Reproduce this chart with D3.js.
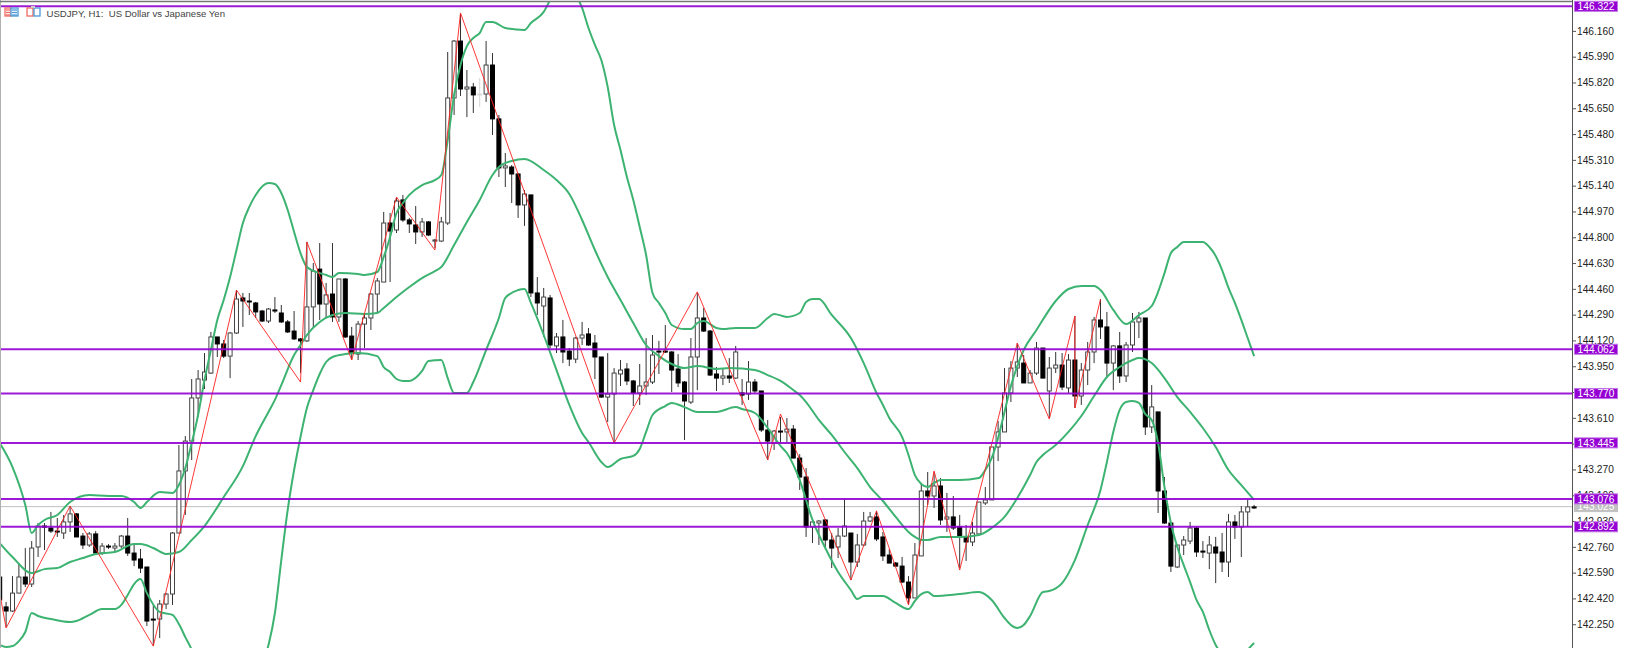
<!DOCTYPE html>
<html>
<head>
<meta charset="utf-8">
<style>
    body { margin: 0; background: #fff; }
    svg { display: block; }
</style>
<script src="https://cdn.jsdelivr.net/npm/d3@7"></script>
</head>
<body>
<svg id="chart" width="1626" height="648"></svg>
<script>
const title = "USDJPY, H1:  US Dollar vs Japanese Yen"

const open = [142.561,142.364,142.337,142.455,142.561,142.515,142.759,142.897,142.884,142.864,142.851,142.924,142.977,142.831,142.772,142.845,142.719,142.765,142.752,142.765,
    142.831,142.719,142.680,142.627,142.284,142.284,142.383,142.449,142.851,143.260,143.457,143.741,143.859,143.905,144.143,144.097,144.017,144.169,144.400,144.380,
    144.367,144.314,144.248,144.321,144.301,144.242,144.182,144.130,144.117,144.341,144.590,144.360,144.426,144.275,144.525,144.149,144.030,144.228,144.268,144.426,
    144.505,144.894,144.848,145.046,144.914,144.881,144.835,144.901,144.775,144.775,144.894,145.718,146.093,145.777,145.790,145.744,145.744,145.935,145.580,145.257,
    145.263,145.217,145.013,145.079,144.433,144.347,144.400,144.084,144.143,144.050,143.997,144.136,144.163,144.103,144.011,143.747,143.767,143.899,143.932,143.853,
    143.774,143.820,143.846,144.050,144.050,144.044,143.932,143.846,143.714,144.011,144.268,144.182,143.899,143.872,143.886,143.872,143.774,143.767,143.846,143.787,
    143.530,143.444,143.523,143.517,143.536,143.345,143.220,142.891,142.917,142.937,142.805,142.759,142.831,142.851,142.660,142.772,142.930,142.957,142.825,142.706,
    142.653,142.633,142.528,142.423,142.700,143.128,143.095,143.161,142.943,142.957,142.891,142.825,142.792,142.845,143.049,143.069,143.418,143.517,143.774,143.938,
    143.971,143.840,143.905,144.070,143.787,143.938,143.958,143.807,143.991,143.754,143.925,144.044,144.255,144.209,143.971,144.084,143.886,144.090,144.242,144.268,
    143.550,143.649,143.128,142.917,142.627,142.772,142.798,142.884,142.732,142.719,142.759,142.726,142.660,142.924,142.891,142.990,143.023]

const high = [142.574,142.397,142.567,142.653,142.752,142.798,142.917,142.917,142.990,142.950,142.970,143.029,142.983,142.851,142.858,142.864,142.785,142.778,142.785,142.838,
    142.950,142.772,142.746,142.627,142.383,142.410,142.455,142.858,143.431,143.490,143.866,143.925,144.037,144.176,144.143,144.123,144.176,144.452,144.433,144.433,
    144.374,144.321,144.334,144.406,144.354,144.255,144.314,144.136,144.769,144.630,144.762,144.499,144.762,144.525,144.531,144.209,144.248,144.288,144.433,144.531,
    144.967,144.960,145.059,145.079,144.927,145.006,144.927,144.907,144.789,144.934,146.021,146.100,146.278,145.902,145.817,145.849,146.093,146.014,145.606,145.355,
    145.276,145.224,145.111,145.079,144.538,144.466,144.420,144.169,144.255,144.070,144.143,144.242,144.202,144.156,144.011,144.037,143.938,143.991,143.971,143.859,
    143.965,144.136,144.156,144.117,144.222,144.050,144.030,143.853,144.136,144.433,144.334,144.189,143.945,143.938,144.004,144.084,143.866,143.984,143.866,143.787,
    143.596,143.530,143.616,143.609,143.563,143.371,143.279,142.937,142.937,142.943,142.851,142.884,143.075,142.851,142.845,142.990,142.990,142.997,142.858,142.746,
    142.660,142.693,142.567,142.785,143.181,143.253,143.253,143.214,143.115,143.095,142.970,142.904,142.924,143.055,143.154,143.418,143.589,143.938,143.984,144.103,
    144.024,143.925,144.110,144.070,144.011,144.044,144.037,144.030,144.281,143.971,144.110,144.275,144.393,144.308,144.090,144.176,144.110,144.301,144.308,144.268,
    143.826,143.649,143.220,142.917,142.772,142.831,142.924,142.891,142.798,142.831,142.825,142.851,142.977,142.970,143.029,143.075,143.036]

const low = [142.397,142.232,142.331,142.455,142.495,142.495,142.693,142.739,142.851,142.825,142.812,142.858,142.825,142.746,142.759,142.713,142.706,142.746,142.732,142.752,
    142.700,142.633,142.587,142.238,142.106,142.159,142.350,142.377,142.851,142.970,143.332,143.616,143.800,143.899,144.011,144.004,143.872,144.163,144.209,144.288,
    144.268,144.242,144.235,144.301,144.235,144.169,144.123,143.905,144.110,144.202,144.255,144.268,144.242,144.242,144.136,143.991,143.991,144.070,144.189,144.301,
    144.505,144.505,144.828,144.901,144.828,144.756,144.802,144.808,144.729,144.769,144.881,145.606,145.731,145.592,145.619,145.659,145.692,145.474,145.197,145.131,
    145.026,144.927,144.875,144.406,144.288,144.143,144.070,144.037,143.971,143.951,143.971,144.090,144.084,143.866,143.741,143.583,143.444,143.820,143.826,143.688,
    143.695,143.760,143.833,143.899,144.037,143.780,143.813,143.464,143.701,143.793,144.176,143.886,143.787,143.826,143.840,143.866,143.695,143.728,143.774,143.517,
    143.332,143.398,143.451,143.451,143.345,143.135,142.825,142.785,142.772,142.759,142.620,142.686,142.825,142.541,142.627,142.765,142.924,142.798,142.667,142.653,
    142.627,142.521,142.377,142.423,142.700,143.036,143.016,142.904,142.858,142.871,142.620,142.667,142.765,142.838,143.036,143.069,143.325,143.517,143.714,143.879,
    143.840,143.840,143.892,143.872,143.609,143.905,143.793,143.774,143.675,143.695,143.826,143.971,144.130,143.879,143.793,143.840,143.846,144.044,144.136,143.497,
    143.510,142.983,142.911,142.594,142.620,142.706,142.778,142.693,142.686,142.613,142.521,142.594,142.561,142.812,142.693,142.891,143.010]

const close = [142.410,142.337,142.455,142.561,142.515,142.752,142.897,142.890,142.864,142.858,142.924,142.977,142.825,142.772,142.845,142.719,142.765,142.759,142.765,142.831,
    142.719,142.673,142.620,142.271,142.278,142.383,142.449,142.851,143.260,143.457,143.741,143.866,143.912,144.143,144.097,144.017,144.169,144.393,144.380,144.374,
    144.308,144.248,144.327,144.314,144.242,144.176,144.130,144.117,144.341,144.577,144.360,144.420,144.275,144.525,144.143,144.037,144.228,144.268,144.426,144.512,
    144.894,144.841,145.039,144.914,144.888,144.835,144.901,144.815,144.782,144.901,145.718,146.093,145.777,145.790,145.738,145.744,145.935,145.580,145.257,145.270,
    145.217,145.013,145.085,144.433,144.367,144.406,144.090,144.143,144.044,143.997,144.136,144.156,144.090,144.011,143.747,143.767,143.905,143.925,143.853,143.774,
    143.820,143.846,144.024,144.044,144.044,143.925,143.840,143.721,144.011,144.268,144.182,143.892,143.872,143.886,143.872,144.044,143.760,143.846,143.787,143.530,
    143.457,143.523,143.517,143.536,143.345,143.220,142.891,142.924,142.930,142.805,142.752,142.831,142.897,142.660,142.772,142.930,142.957,142.812,142.700,142.653,
    142.633,142.528,142.423,142.706,143.128,143.095,143.161,142.937,142.957,142.884,142.825,142.792,142.851,143.055,143.069,143.418,143.517,143.774,143.938,143.978,
    143.840,143.905,144.070,143.872,143.938,143.958,143.813,143.991,143.754,143.925,144.044,144.255,144.209,143.971,144.084,143.886,144.090,144.242,144.268,143.550,
    143.682,143.128,142.917,142.633,142.772,142.805,142.884,142.726,142.726,142.772,142.719,142.660,142.924,142.891,142.990,143.023,143.016]

const fadedBars = [75]

// bollinger bands: [bar, price]
const bandUpper = [[0,143.444],[2,143.286],[4,143.036],[5,142.851],[6,142.904],[7,142.937],[9,142.970],[11,143.055],[14,143.101],[17,143.095],[19,143.095],[21,143.055],[22,143.016],[23,143.055],[25,143.121],[27,143.115],[28,143.167],[29,143.279],[30,143.444],[31,143.629],[32,143.859],[33,144.057],[34,144.255],[35,144.387],[36,144.538],[37,144.716],[38,144.894],[39,145.000],[40,145.079],[42,145.157],[43,145.151],[44,145.092],[45,144.980],[46,144.835],[47,144.696],[48,144.604],[50,144.564],[51,144.551],[52,144.538],[53,144.564],[56,144.558],[57,144.551],[59,144.571],[60,144.670],[61,144.802],[62,144.960],[63,145.026],[64,145.079],[66,145.144],[68,145.177],[69,145.210],[70,145.441],[71,145.738],[72,145.935],[73,146.060],[74,146.113],[75,146.146],[76,146.219],[77,146.219],[79,146.179],[82,146.166],[83,146.212],[85,146.285],[86,146.364],[87,146.443],[88,146.509],[89,146.495],[90,146.403],[91,146.311],[92,146.179],[93,146.067],[94,145.968],[95,145.790],[96,145.540],[97,145.375],[98,145.197],[99,145.046],[100,144.868],[101,144.683],[102,144.433],[103,144.367],[104,144.301],[105,144.222],[107,144.195],[108,144.195],[109,144.235],[110,144.248],[112,144.202],[113,144.195],[115,144.202],[118,144.202],[120,144.268],[121,144.295],[123,144.275],[125,144.301],[126,144.374],[127,144.393],[128,144.393],[130,144.288],[133,144.136],[135,143.971],[137,143.774],[138,143.695],[139,143.609],[141,143.484],[142,143.365],[143,143.233],[144,143.174],[145,143.154],[146,143.181],[147,143.200],[150,143.200],[153,143.214],[154,143.266],[155,143.345],[156,143.477],[157,143.649],[158,143.820],[159,143.951],[160,144.057],[162,144.189],[165,144.380],[167,144.459],[169,144.479],[171,144.479],[172,144.452],[174,144.321],[176,144.228],[178,144.288],[180,144.347],[181,144.440],[182,144.564],[183,144.696],[184,144.736],[185,144.769],[188,144.769],[189,144.736],[190,144.677],[191,144.584],[192,144.466],[193,144.367],[194,144.255],[195,144.136],[196,144.017]]

const bandMiddle = [[0,142.785],[2,142.693],[5,142.587],[7,142.613],[9,142.620],[11,142.660],[13,142.686],[15,142.713],[18,142.726],[21,142.778],[22,142.778],[24,142.752],[26,142.713],[28,142.726],[30,142.805],[32,142.897],[35,143.088],[38,143.292],[40,143.490],[42,143.649],[43,143.728],[44,143.826],[46,144.024],[47,144.090],[48,144.156],[50,144.242],[52,144.288],[54,144.301],[57,144.295],[59,144.301],[60,144.334],[62,144.406],[64,144.472],[66,144.531],[68,144.577],[69,144.604],[71,144.749],[73,144.901],[75,145.046],[77,145.210],[78,145.263],[80,145.303],[82,145.316],[85,145.243],[87,145.177],[89,145.085],[91,144.914],[93,144.716],[95,144.538],[97,144.387],[99,144.235],[101,144.090],[103,144.017],[105,143.965],[107,143.938],[109,143.951],[112,143.932],[114,143.938],[118,143.925],[120,143.892],[122,143.853],[124,143.793],[125,143.760],[126,143.714],[128,143.596],[130,143.497],[132,143.385],[134,143.279],[136,143.154],[138,143.062],[140,142.957],[142,142.858],[143,142.825],[144,142.805],[145,142.805],[147,142.825],[150,142.825],[153,142.838],[155,142.884],[157,142.957],[159,143.082],[161,143.233],[162,143.319],[163,143.365],[165,143.431],[167,143.517],[169,143.622],[171,143.754],[173,143.879],[175,143.945],[177,143.991],[178,144.004],[180,143.971],[182,143.872],[184,143.747],[186,143.649],[188,143.543],[190,143.418],[192,143.266],[194,143.167],[196,143.069]]

const bandLower = [[0,142.113],[1,142.100],[2,142.106],[3,142.139],[4,142.199],[5,142.324],[6,142.304],[8,142.284],[11,142.264],[12,142.271],[14,142.311],[16,142.350],[18,142.350],[19,142.377],[20,142.443],[21,142.515],[22,142.548],[23,142.455],[25,142.331],[27,142.311],[28,142.251],[29,142.165],[30,142.080],[31,141.935],[38,141.619],[40,141.849],[41,141.981],[42,142.113],[43,142.324],[44,142.673],[45,143.003],[46,143.266],[47,143.484],[48,143.675],[49,143.793],[50,143.899],[51,143.978],[52,144.011],[54,144.030],[56,144.037],[59,144.017],[60,143.945],[61,143.912],[62,143.866],[63,143.853],[64,143.853],[66,143.919],[67,143.985],[69,143.991],[70,143.872],[71,143.774],[73,143.774],[74,143.846],[76,144.057],[78,144.268],[79,144.400],[81,144.452],[82,144.459],[83,144.367],[85,144.156],[87,143.925],[89,143.695],[91,143.510],[92,143.451],[94,143.319],[95,143.286],[97,143.339],[99,143.359],[100,143.405],[101,143.517],[102,143.629],[104,143.688],[105,143.708],[107,143.681],[109,143.649],[112,143.649],[115,143.681],[116,143.668],[118,143.642],[120,143.543],[122,143.425],[123,143.378],[125,143.200],[127,142.937],[129,142.752],[131,142.594],[133,142.475],[134,142.416],[135,142.436],[138,142.436],[140,142.390],[142,142.350],[143,142.403],[144,142.449],[145,142.462],[146,142.436],[150,142.449],[153,142.462],[155,142.410],[157,142.291],[158,142.245],[159,142.225],[160,142.245],[161,142.304],[163,142.462],[164,142.469],[166,142.521],[168,142.673],[170,142.904],[172,143.135],[173,143.319],[174,143.517],[175,143.662],[176,143.714],[177,143.721],[178,143.708],[179,143.635],[180,143.596],[181,143.444],[182,143.154],[183,142.917],[184,142.759],[185,142.640],[186,142.528],[187,142.410],[188,142.331],[189,142.212],[190,142.113],[192,142.014],[193,141.981],[194,142.014],[195,142.080],[196,142.126]]

// zigzag pivots: [bar, price]
const zigzag = [[0,142.455],[1,142.225],[11,143.029],[24,142.106],[37,144.452],[47,143.846],[48,144.769],[55,143.991],[62,145.065],[68,144.716],[72,146.278],[96,143.444],[109,144.440],[120,143.332],[122,143.635],[133,142.541],[137,142.997],[142,142.377],[146,143.260],[150,142.607],[159,144.103],[164,143.602],[168,144.281],[168,143.675],[172,144.393]]

const levels = [146.322, 144.062, 143.770, 143.445, 143.076, 142.892]
const lastPrice = 143.025
const tickLabels = [146.160,145.990,145.820,145.650,145.480,145.310,145.140,144.970,144.800,144.630,144.460,144.290,144.120,143.950,143.780,143.610,143.440,143.270,143.100,142.930,142.760,142.590,142.420,142.250]

const WIDTH = 1626,
    HEIGHT = 648,
    AXIS_X = 1572,
    PURPLE = "#9400d3",
    GREEN = "#3cb371",
    FONT = "'Liberation Sans', sans-serif"

const svg = d3.select("#chart")

const x = d3.scaleLinear().domain([0, 196]).range([-0.3, 1254.1])
const y = d3.scaleLinear().domain([146.322, 142.892]).range([6.3, 526.8])

svg.append("clipPath")
    .attr("id", "plot-clip")
    .append("rect")
    .attr("x", 0)
    .attr("y", 2)
    .attr("width", AXIS_X)
    .attr("height", HEIGHT - 2)

const plot = svg.append("g").attr("clip-path", "url(#plot-clip)")

// last price line sits under the candles
plot.append("line")
    .attr("x1", 0)
    .attr("x2", AXIS_X)
    .attr("y1", y(lastPrice))
    .attr("y2", y(lastPrice))
    .style("stroke", "#c0c0c0")
    .style("stroke-width", 1)

// candles
const candles = plot.selectAll("g.candle")
    .data(d3.range(open.length))
    .join("g")
    .attr("class", "candle")
    .style("opacity", i => fadedBars.includes(i) ? 0.2 : 1)

candles.append("line")
    .attr("x1", i => x(i))
    .attr("x2", i => x(i))
    .attr("y1", i => y(high[i]))
    .attr("y2", i => y(low[i]))
    .style("stroke", "#333")
    .style("stroke-width", 1)

candles.append("rect")
    .attr("x", i => x(i) - 2)
    .attr("y", i => y(Math.max(open[i], close[i])))
    .attr("width", 4)
    .attr("height", i => Math.max(1, Math.abs(y(open[i]) - y(close[i]))))
    .style("fill", i => close[i] >= open[i] ? "#fff" : "#000")
    .style("stroke", i => close[i] >= open[i] ? "#444" : "#000")
    .style("stroke-width", 1)

// indicator lines
const bandLine = d3.line()
    .x(d => x(d[0]))
    .y(d => y(d[1]))
    .curve(d3.curveMonotoneX)

plot.selectAll("path.band")
    .data([bandUpper, bandMiddle, bandLower])
    .join("path")
    .attr("class", "band")
    .attr("d", bandLine)
    .style("fill", "none")
    .style("stroke", GREEN)
    .style("stroke-width", 2)

plot.append("path")
    .datum(zigzag)
    .attr("d", d3.line().x(d => x(d[0])).y(d => y(d[1])))
    .style("fill", "none")
    .style("stroke", "#ff2020")
    .style("stroke-width", 0.9)

plot.selectAll("line.level")
    .data(levels)
    .join("line")
    .attr("class", "level")
    .attr("x1", 0)
    .attr("x2", AXIS_X)
    .attr("y1", d => y(d))
    .attr("y2", d => y(d))
    .style("stroke", PURPLE)
    .style("stroke-width", 2)
    .style("stroke-opacity", 0.9)

// frame
svg.append("line")
    .attr("x1", 0.5).attr("x2", 0.5)
    .attr("y1", 0).attr("y2", HEIGHT)
    .style("stroke", "#b0b0b0")

svg.append("line")
    .attr("x1", 0).attr("x2", AXIS_X)
    .attr("y1", 1.5).attr("y2", 1.5)
    .style("stroke", "#777")
    .style("stroke-width", 1.5)

// price axis
const axis = svg.append("g")
    .attr("transform", `translate(${AXIS_X}, 0)`)
    .call(d3.axisRight(y).tickValues(tickLabels).tickFormat(d3.format(".3f")).tickSize(4).tickPadding(1))

axis.select(".domain")
    .attr("d", `M0.5,0V${HEIGHT}`)
    .style("stroke", "#555")

axis.selectAll(".tick line").style("stroke", "#555")

axis.selectAll(".tick text")
    .style("font-family", FONT)
    .style("font-size", "10.2px")
    .style("fill", "#222")

// price tags
const tags = svg.append("g")

const drawTag = (price, fill) => {
    tags.append("rect")
        .attr("x", 1574.5)
        .attr("y", y(price) - 5)
        .attr("width", 43)
        .attr("height", 10)
        .style("fill", fill)
        .style("stroke", fill === PURPLE ? "#c070e8" : fill)
        .style("stroke-width", 1)

    tags.append("text")
        .attr("x", 1596)
        .attr("y", y(price))
        .attr("dy", "0.36em")
        .attr("text-anchor", "middle")
        .text(price.toFixed(3))
        .style("font-family", FONT)
        .style("font-size", "10.2px")
        .style("fill", "#fff")
}

drawTag(lastPrice, "#c0c0c0")
levels.forEach(level => drawTag(level, PURPLE))

// title and icons
svg.append("text")
    .attr("x", 46.5)
    .attr("y", 16.5)
    .style("white-space", "pre")
    .text(title)
    .style("font-family", FONT)
    .style("font-size", "9.6px")
    .style("fill", "#444")

const icons = svg.append("g").style("stroke-width", 1.3)

icons.append("rect").attr("x", 5).attr("y", 8).attr("width", 6).attr("height", 8)
    .style("fill", "#fff").style("stroke", "#f06a60")
icons.append("rect").attr("x", 11).attr("y", 8).attr("width", 7).attr("height", 8)
    .style("fill", "#fff").style("stroke", "#4a98d8")

d3.range(3).forEach(i => {
    icons.append("line").attr("x1", 6).attr("x2", 10).attr("y1", 10 + i * 2.5).attr("y2", 10 + i * 2.5)
        .style("stroke", "#f06a60")
    icons.append("line").attr("x1", 12).attr("x2", 17).attr("y1", 10 + i * 2.5).attr("y2", 10 + i * 2.5)
        .style("stroke", "#4a98d8")
})

icons.append("rect").attr("x", 27).attr("y", 8).attr("width", 6).attr("height", 8)
    .style("fill", "#fff").style("stroke", "#f06a60")
icons.append("rect").attr("x", 34).attr("y", 8).attr("width", 6).attr("height", 8)
    .style("fill", "#fff").style("stroke", "#4a98d8")
icons.append("rect").attr("x", 31).attr("y", 6).attr("width", 4).attr("height", 2)
    .style("fill", "#ccc")
</script>
</body>
</html>
